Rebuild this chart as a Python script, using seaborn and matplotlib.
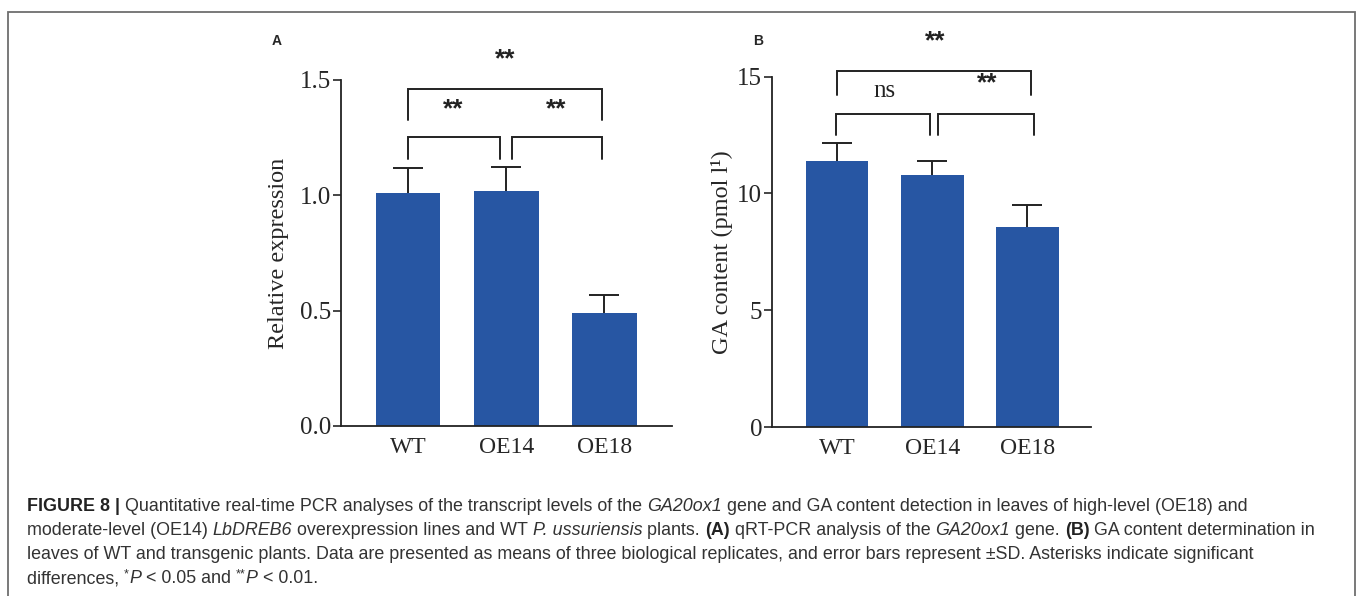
import numpy as np
import matplotlib
matplotlib.use('Agg')
import matplotlib.pyplot as plt
import matplotlib.patches as mpatches
import seaborn as sns

sns.set_style('ticks')
plt.rcParams['font.family'] = ['Liberation Serif', 'DejaVu Serif']

# 数据
groups = ['WT', 'OE14', 'OE18']
expr_mean = [1.01, 1.02, 0.49]
expr_sd = [0.11, 0.105, 0.08]
ga_mean = [11.37, 10.78, 8.55]
ga_sd = [0.80, 0.60, 0.95]

bar_color = '#2756a3'
W, H = 1358, 596

fig = plt.figure(figsize=(W / 100, H / 100), dpi=100)

# 外框（底部开口）
fig.patches.append(mpatches.Rectangle((8 / W, -0.1), (1355 - 8) / W, 1.1 - 12 / H,
                                      transform=fig.transFigure, fill=False,
                                      edgecolor='#6e6e6e', linewidth=1.3))


def bracket(ax, x1, x2, y, ylo1, ylo2):
    ax.plot([x1, x1, x2, x2], [ylo1, y, y, ylo2], color='#222222', lw=1.4,
            clip_on=False, solid_joinstyle='miter')


def panel(ax, vals, sd, ylim, yticks, yticklabels, ylabel, xlim, labelpad):
    sns.barplot(x=groups, y=vals, ax=ax, color=bar_color, saturation=1,
                width=0.66, errorbar=None, edgecolor='none')
    eb = ax.errorbar(range(len(vals)), vals, yerr=[np.zeros(len(vals)), sd], fmt='none',
                     ecolor='#222222', elinewidth=1.4, capsize=11, capthick=1.4)
    eb[1][0].set_visible(False)   # 只保留上方的横帽
    sns.despine(ax=ax)
    ax.set_ylim(*ylim)
    ax.set_xlim(*xlim)
    ax.set_yticks(yticks)
    ax.set_yticklabels(yticklabels)
    ax.tick_params(axis='y', direction='out', length=6, width=1.2, labelsize=18, pad=1)
    ax.tick_params(axis='x', direction='in', length=6.5, width=1.2, labelsize=17, pad=8)
    for s in ['left', 'bottom']:
        ax.spines[s].set_linewidth(1.3)
        ax.spines[s].set_color('#222222')
    ax.set_xlabel('')
    ax.set_ylabel(ylabel, fontsize=17.5, labelpad=labelpad)


# A 图
axA = fig.add_axes([341 / W, 1 - 426 / H, 331 / W, 346 / H])
panel(axA, expr_mean, expr_sd, (0, 1.5), [0, 0.5, 1.0, 1.5],
      ['0.0', '0.5', '1.0', '1.5'], 'Relative expression', (-0.684, 2.69), 8)
bracket(axA, 0, 0.94, 1.255, 1.157, 1.157)
bracket(axA, 1.06, 1.98, 1.255, 1.157, 1.157)
bracket(axA, 0, 1.98, 1.46, 1.326, 1.326)
star_kw = dict(ha='center', va='center', fontsize=19, family='Liberation Sans',
               fontweight='bold', color='#222222')
axA.text(0.46, 1.375, '**', **star_kw)
axA.text(1.51, 1.375, '**', **star_kw)
axA.text(0.99, 1.59, '**', clip_on=False, **star_kw)

# B 图
axB = fig.add_axes([772 / W, 1 - 427 / H, 319 / W, 350.3 / H])
panel(axB, ga_mean, ga_sd, (0, 15), [0, 5, 10, 15], ['0', '5', '10', '15'],
      'GA content (pmol l¹)', (-0.684, 2.67), 3)
bracket(axB, -0.01, 0.98, 13.4, 12.5, 12.5)
bracket(axB, 1.06, 2.07, 13.4, 12.5, 12.5)
bracket(axB, 0, 2.04, 15.25, 14.2, 14.2)
axB.text(0.5, 14.4, 'ns', ha='center', va='center', fontsize=18, color='#222222')
axB.text(1.58, 14.7, '**', **star_kw)
axB.text(1.03, 16.5, '**', clip_on=False, **star_kw)

# 面板字母
fig.text(277 / W, 1 - 41 / H, 'A', ha='center', va='center', fontsize=10,
         fontweight='bold', family='Liberation Sans')
fig.text(758 / W, 1 - 41 / H, 'B', ha='center', va='center', fontsize=10,
         fontweight='bold', family='Liberation Sans')

# 图注（多种字体样式拼接）
renderer = fig.canvas.get_renderer()
cap_size = 12.9


def seg_width(txt, kw):
    t1 = fig.text(0, 0, 'x' + txt + 'x', **kw)
    t2 = fig.text(0, 0, 'xx', **kw)
    w = t1.get_window_extent(renderer).width - t2.get_window_extent(renderer).width
    t1.remove()
    t2.remove()
    return w


def rich_line(x_px, base_px, parts):
    x = x_px
    for txt, style in parts:
        kw = dict(fontsize=cap_size, family='Liberation Sans', color='#333333')
        y = base_px
        if 'b' in style:
            kw['fontweight'] = 'bold'
            kw['color'] = '#222222'
        if 'i' in style:
            kw['fontstyle'] = 'italic'
        if 's' in style:
            kw['fontsize'] = cap_size * 0.7
            y = base_px - 6
        w = seg_width(txt, kw)
        fig.text(x / W, 1 - y / H, txt, va='baseline', ha='left', **kw)
        x += w


lines = [
    [('FIGURE 8 | ', 'b'),
     ('Quantitative real-time PCR analyses of the transcript levels of the ', ''),
     ('GA20ox1', 'i'),
     (' gene and GA content detection in leaves of high-level (OE18) and', '')],
    [('moderate-level (OE14) ', ''), ('LbDREB6', 'i'),
     (' overexpression lines and WT ', ''), ('P. ussuriensis', 'i'),
     (' plants. ', ''), ('(A)', 'b'), (' qRT-PCR analysis of the ', ''),
     ('GA20ox1', 'i'), (' gene. ', ''), ('(B)', 'b'),
     (' GA content determination in', '')],
    [('leaves of WT and transgenic plants. Data are presented as means of three biological '
      'replicates, and error bars represent \u00b1SD. Asterisks indicate significant', '')],
    [('differences, ', ''), ('*', 's'), ('P', 'i'), (' < 0.05 and ', ''),
     ('**', 's'), ('P', 'i'), (' < 0.01.', '')],
]
for k, parts in enumerate(lines):
    rich_line(27, 511 + 24 * k, parts)

fig.savefig('out.png', dpi=100)
